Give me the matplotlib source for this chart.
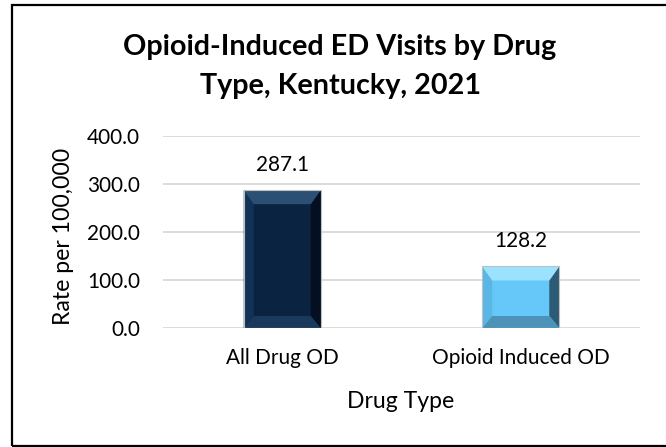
import matplotlib
matplotlib.use("Agg")
import matplotlib.pyplot as plt
from matplotlib.patches import Rectangle, Polygon

# data
categories = ["All Drug OD", "Opioid Induced OD"]
rates = [287.1, 128.2]
yticks = [0, 100, 200, 300, 400]
title_lines = ["Opioid-Induced ED Visits by Drug", "Type, Kentucky, 2021"]

# colours for each bar: face, then the four bevel faces
bar_styles = [
    dict(face="#0a2341", top="#2c5074", left="#123257", right="#041021", bottom="#193a5b"),
    dict(face="#66c8f8", top="#9be2ff", left="#5ab6e4", right="#2d5a74", bottom="#4d93b9"),
]

plt.rcParams["font.family"] = ["Lato", "DejaVu Sans"]

W, H = 666, 447
fig = plt.figure(figsize=(W / 100, H / 100), dpi=100)
renderer = fig.canvas.get_renderer()


def px(x, y):
    # pixel position (from top-left) to figure coords
    return x / W, 1 - y / H


def size_for(s, width_px, **kw):
    # font size that makes s about width_px wide
    t = fig.text(0, 0, s, fontsize=10, **kw)
    w = t.get_window_extent(renderer).width
    t.remove()
    return 10 * width_px / w


title_fs = size_for(title_lines[0], 434, fontweight="bold")
tick_fs = size_for("All Drug OD", 112)
label_fs = size_for("Drug Type", 107)

# outer frame (right edge runs off the picture)
fig.patches.append(Rectangle(px(12, 446), (W + 5 - 12) / W, 441 / H, transform=fig.transFigure,
                             fill=False, edgecolor="black", linewidth=1.6))

ax_l, ax_r, ax_t, ax_b = 163, 640, 136, 328
ax = fig.add_axes([ax_l / W, 1 - ax_b / H, (ax_r - ax_l) / W, (ax_b - ax_t) / H])
x = list(range(len(categories)))
bars = ax.bar(x, rates, width=0.323, color=[s["face"] for s in bar_styles],
              edgecolor="none", zorder=3)
ax.set_xlim(-0.5, len(categories) - 0.5)
ax.set_ylim(0, 400)
ax.set_yticks(yticks)
ax.set_yticklabels([f"{v:.1f}" for v in yticks])
ax.set_xticks(x)
ax.set_xticklabels(categories)
ax.grid(axis="y", color="#d9d9d9", linewidth=1.3, zorder=0)
for sp in ax.spines.values():
    sp.set_visible(False)
ax.tick_params(axis="both", length=0, labelsize=tick_fs, colors="black")
ax.tick_params(axis="y", pad=23 * 0.72)
ax.tick_params(axis="x", pad=20 * 0.72)

# bevel overlays, sizes in pixels converted to data units
sx = len(categories) / (ax_r - ax_l)
sy = 400 / (ax_b - ax_t)
bx, bt, bb = 10 * sx, 14 * sy, 12 * sy
for b, s in zip(bars, bar_styles):
    x0, w, h = b.get_x(), b.get_width(), b.get_height()
    x1 = x0 + w
    faces = {
        "left": [(x0, 0), (x0, h), (x0 + bx, h - bt), (x0 + bx, bb)],
        "right": [(x1, 0), (x1, h), (x1 - bx, h - bt), (x1 - bx, bb)],
        "top": [(x0, h), (x1, h), (x1 - bx, h - bt), (x0 + bx, h - bt)],
        "bottom": [(x0, 0), (x1, 0), (x1 - bx, bb), (x0 + bx, bb)],
    }
    for k in ["left", "right", "top", "bottom"]:
        ax.add_patch(Polygon(faces[k], closed=True, facecolor=s[k], edgecolor="none", zorder=4))
    ax.add_patch(Rectangle((x0, 0), w, h, fill=False, edgecolor="#bfbfbf", linewidth=0.8, zorder=5))
    ax.annotate(f"{h:.1f}", (x0 + w / 2, h), xytext=(0, 25 * 0.72), textcoords="offset points",
                ha="center", va="center", fontsize=tick_fs)

fig.text(*px(63, 236), "Rate per 100,000", rotation=90, ha="center", va="center", fontsize=label_fs)
fig.text(*px(401, 402), "Drug Type", ha="center", va="center", fontsize=label_fs)

fig.text(*px(340, 55), title_lines[0], ha="center", va="baseline", fontsize=title_fs, fontweight="bold")
fig.text(*px(340, 94), title_lines[1], ha="center", va="baseline", fontsize=title_fs, fontweight="bold")

fig.savefig("out.png", dpi=100)
